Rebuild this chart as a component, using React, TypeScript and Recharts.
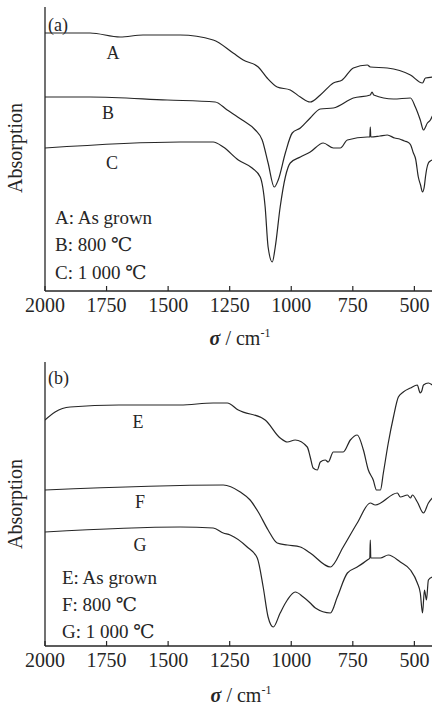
import { LineChart, Line, XAxis, YAxis } from "recharts";

// (a) wavenumber (cm-1) and absorption (arb. units) per curve
const waveA = [2000, 1817, 1695, 1602, 1504, 1451, 1317, 1236, 1195, 1134, 1098, 1057, 1004, 963, 923, 882, 829, 793, 748, 691, 679, 610, 516, 467, 455, 427];
const absA = [258, 258, 254, 256, 256, 256, 251, 238, 231, 224, 213, 204, 201, 194, 189, 196, 208, 211, 223, 226, 224, 223, 216, 208, 213, 214];

const waveB = [2000, 1817, 1504, 1309, 1260, 1199, 1146, 1118, 1094, 1069, 1053, 1024, 996, 963, 923, 882, 829, 748, 679, 672, 665, 585, 516, 496, 476, 463, 447, 435, 427];
const absB = [194, 194, 191, 189, 181, 171, 161, 151, 128, 104, 111, 138, 158, 163, 173, 182, 183, 193, 196, 199, 196, 192, 193, 184, 171, 161, 168, 171, 175];

const waveC = [2000, 1451, 1317, 1276, 1215, 1159, 1126, 1106, 1094, 1077, 1065, 1045, 1024, 1004, 963, 923, 870, 829, 801, 772, 691, 681, 679, 677, 640, 610, 580, 560, 540, 528, 515, 504, 495, 484, 475, 467, 460, 455, 450, 443, 435, 427];
const absC = [143, 149, 149, 144, 131, 123, 114, 84, 44, 29, 44, 84, 114, 128, 134, 139, 148, 143, 143, 151, 154, 154, 164, 154, 155, 156, 153, 152, 150, 149, 146, 138, 132, 114, 106, 99, 104, 114, 122, 128, 130, 131];

// (b)
const waveE = [2000, 1959, 1898, 1700, 1451, 1317, 1260, 1215, 1106, 1045, 1016, 984, 935, 923, 911, 894, 882, 862, 850, 829, 789, 760, 732, 707, 687, 667, 654, 638, 626, 606, 585, 565, 545, 516, 488, 480, 476, 470, 463, 443, 427];
const absE = [226, 234, 239, 241, 241, 243, 243, 236, 226, 208, 204, 206, 199, 189, 178, 176, 184, 186, 184, 194, 194, 206, 211, 196, 176, 166, 156, 156, 173, 203, 229, 249, 254, 258, 261, 255, 253, 255, 261, 263, 261];

const waveF = [2000, 1276, 1207, 1167, 1134, 1094, 1057, 1016, 963, 923, 841, 789, 732, 679, 659, 569, 557, 528, 516, 508, 488, 463, 443, 427];
const absF = [156, 161, 154, 146, 134, 116, 103, 101, 99, 93, 79, 99, 123, 143, 141, 153, 149, 151, 148, 151, 144, 133, 143, 148];

const waveG = [2000, 1451, 1317, 1276, 1248, 1179, 1138, 1114, 1094, 1073, 1045, 1016, 984, 951, 923, 902, 841, 813, 772, 732, 691, 681, 679, 677, 638, 606, 557, 516, 488, 476, 467, 459, 451, 443, 427];
const absG = [114, 119, 118, 113, 111, 99, 88, 59, 29, 19, 33, 46, 54, 49, 43, 38, 33, 49, 73, 79, 86, 88, 106, 88, 88, 91, 84, 76, 63, 53, 33, 56, 46, 66, 69];

const xTicks = [2000, 1750, 1500, 1250, 1000, 750, 500];

const zip = (xs: number[], ys: number[]) => xs.map((x, i) => ({ x, y: ys[i] }));

const FONT = "'Times New Roman', 'Liberation Serif', 'DejaVu Serif', 'Noto Serif', Times, serif";
const INK = "#262626";

const Tick = (p: any) => (
  <g>
    <line x1={p.x} x2={p.x} y1={p.y - 5} y2={p.y} stroke={INK} strokeWidth={1.2} />
    <text x={p.x} y={p.y + 7} dy="0.71em" textAnchor="middle" fontSize={20} fontFamily={FONT} fill={INK}>
      {p.payload.value}
    </text>
  </g>
);

function Panel({ series, top, height, marginTop }: { series: { x: number; y: number }[][]; top: number; height: number; marginTop: number }) {
  return (
    <div style={{ position: "absolute", left: 0, top }}>
      <LineChart width={439} height={height} margin={{ top: marginTop, right: 0, bottom: 0, left: 0 }}>
        <XAxis
          type="number"
          dataKey="x"
          domain={[400, 2000]}
          reversed
          ticks={xTicks}
          interval={0}
          tickLine={false}
          tickSize={0}
          tickMargin={0}
          tick={<Tick />}
          height={height - marginTop - 284}
          axisLine={{ stroke: INK, strokeWidth: 1.3 }}
          allowDataOverflow
        />
        <XAxis xAxisId="top" orientation="top" type="number" dataKey="x" domain={[400, 2000]} reversed height={0} tick={false} tickLine={false} axisLine={{ stroke: INK, strokeWidth: 1.3 }} />
        <YAxis type="number" dataKey="y" domain={[0, 284]} width={45} tick={false} tickLine={false} axisLine={{ stroke: INK, strokeWidth: 1.3 }} allowDataOverflow />
        {series.map((d, i) => (
          <Line key={i} data={d} dataKey="y" type="monotone" dot={false} stroke={INK} strokeWidth={1.2} isAnimationActive={false} />
        ))}
      </LineChart>
    </div>
  );
}

const txt = (s: string, left: number, cy: number, size = 18, center = false) => (
  <div
    style={{
      position: "absolute",
      left,
      top: cy - 10,
      fontSize: size,
      lineHeight: "20px",
      whiteSpace: "nowrap",
      transform: center ? "translateX(-50%)" : undefined,
      color: INK,
    }}
  >
    {s}
  </div>
);

const XLabel = ({ cx, cy }: { cx: number; cy: number }) => (
  <div style={{ position: "absolute", left: cx, top: cy - 11, transform: "translateX(-50%)", fontSize: 20, lineHeight: "22px", whiteSpace: "nowrap", color: INK }}>
    <i style={{ fontWeight: "bold" }}>σ</i> / cm<sup style={{ fontSize: 12, verticalAlign: "8px", lineHeight: 0 }}>-1</sup>
  </div>
);

const YLabel = ({ cy }: { cy: number }) => (
  <div style={{ position: "absolute", left: 15, top: cy, transform: "translate(-50%, -50%) rotate(-90deg)", fontSize: 20, lineHeight: "22px", whiteSpace: "nowrap", color: INK }}>
    Absorption
  </div>
);

export default function App() {
  return (
    <div style={{ position: "absolute", left: 0, top: 0, width: 432, height: 706, overflow: "hidden", background: "#fff", fontFamily: FONT }}>
      <Panel series={[zip(waveA, absA), zip(waveB, absB), zip(waveC, absC)]} top={0} height={350} marginTop={7} />
      <Panel series={[zip(waveE, absE), zip(waveF, absF), zip(waveG, absG)]} top={350} height={356} marginTop={12} />

      {txt("(a)", 48, 25)}
      {txt("A", 113, 53, 18, true)}
      {txt("B", 108, 113, 18, true)}
      {txt("C", 112, 163, 18, true)}
      {txt("A: As grown", 55, 218, 19)}
      {txt("B: 800 ℃", 55, 245, 19)}
      {txt("C: 1 000 ℃", 55, 273, 19)}
      <YLabel cy={148} />
      <XLabel cx={240} cy={338} />

      {txt("(b)", 48, 378)}
      {txt("E", 138, 422, 18, true)}
      {txt("F", 140, 502, 18, true)}
      {txt("G", 140, 545, 18, true)}
      {txt("E: As grown", 62, 578, 19)}
      {txt("F: 800 ℃", 62, 605, 19)}
      {txt("G: 1 000 ℃", 62, 632, 19)}
      <YLabel cy={504} />
      <XLabel cx={241} cy={695} />
    </div>
  );
}
